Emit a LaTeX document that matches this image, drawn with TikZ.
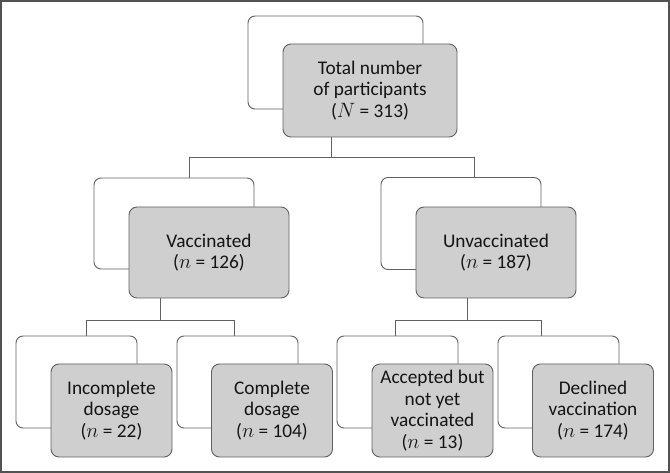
\documentclass[tikz,border=0pt]{standalone}
\usepackage{fontspec}
\setmainfont{Carlito}
\begin{document}
\begin{tikzpicture}[x=1pt,y=-1pt,
  linecol/.style={draw=black!62, line width=0.9pt},
  backbox/.style={linecol, fill=white, rounded corners=7pt, inner sep=0pt},
  frontbox/.style={linecol, fill=black!19, rounded corners=8pt, inner sep=0pt, align=center,
     font=\fontsize{19.3}{21.5}\selectfont, text=black!92},
  conn/.style={linecol}]
\useasboundingbox (0,0) rectangle (670,473);
\draw[draw=black!68, line width=1.3pt] (1,1) rectangle (669,472);

% back boxes
\node[backbox, minimum width=175pt, minimum height=93pt] (topw) at (335.5,62.5) {};
\node[backbox, minimum width=160pt, minimum height=91pt] (vacw) at (174,223.5) {};
\node[backbox, minimum width=160pt, minimum height=92pt] (unvw) at (461,223.5) {};
\node[backbox, minimum width=121pt, minimum height=92pt] (incw) at (76.5,382) {};
\node[backbox, minimum width=121pt, minimum height=92pt] (comw) at (237.5,382) {};
\node[backbox, minimum width=121pt, minimum height=92pt] (accw) at (397.5,382) {};
\node[backbox, minimum width=121pt, minimum height=92pt] (decw) at (558.5,382) {};

% front boxes
\node[frontbox, minimum width=174pt, minimum height=93pt] (topg) at (370,90.5)
  {Total number\\of participants\\($N$ = 313)};
\node[frontbox, minimum width=160pt, minimum height=91pt] (vacg) at (209,252.5)
  {Vaccinated\\($n$ = 126)};
\node[frontbox, minimum width=160pt, minimum height=91pt] (unvg) at (496,252.5)
  {Unvaccinated\\($n$ = 187)};
\node[frontbox, minimum width=121pt, minimum height=93pt] (incg) at (111.5,410.5)
  {Incomplete\\dosage\\($n$ = 22)};
\node[frontbox, minimum width=121pt, minimum height=93pt] (comg) at (272,410.5)
  {Complete\\dosage\\($n$ = 104)};
\node[frontbox, minimum width=121pt, minimum height=93pt] (accg) at (432.5,410.5)
  {Accepted but\\not yet\\vaccinated\\($n$ = 13)};
\node[frontbox, minimum width=121pt, minimum height=93pt] (decg) at (593,410.5)
  {Declined\\vaccination\\($n$ = 174)};

% junctions
\coordinate (j0) at (331,157);
\coordinate (jv) at (189,157);
\coordinate (ju) at (474,157);
\coordinate (k0) at (160,320);
\coordinate (ka) at (86,320);
\coordinate (kb) at (234,320);
\coordinate (m0) at (467,320);
\coordinate (ma) at (395,320);
\coordinate (mb) at (541,320);

\draw[conn] (topg.south -| j0) -- (j0);
\draw[conn] (jv |- vacw.north) -- (jv) -- (ju) -- (ju |- unvw.north);
\draw[conn] (vacg.south -| k0) -- (k0);
\draw[conn] (ka |- incw.north) -- (ka) -- (kb) -- (kb |- comw.north);
\draw[conn] (unvg.south -| m0) -- (m0);
\draw[conn] (ma |- accw.north) -- (ma) -- (mb) -- (mb |- decw.north);
\end{tikzpicture}
\end{document}
